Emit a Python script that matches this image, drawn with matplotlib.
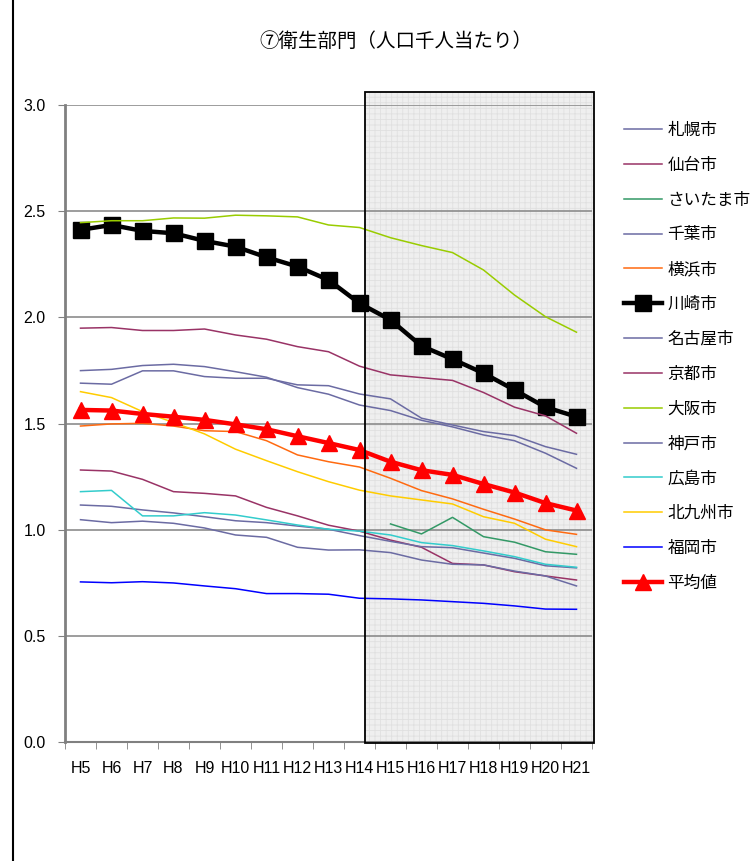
import matplotlib
matplotlib.use("Agg")
import matplotlib.pyplot as plt
from matplotlib.patches import Rectangle
from matplotlib.lines import Line2D
import numpy as np

plt.rcParams['font.family'] = ['Noto Sans CJK JP', 'DejaVu Sans']
plt.rcParams['hatch.linewidth'] = 0.6

years = ['H5', 'H6', 'H7', 'H8', 'H9', 'H10', 'H11', 'H12', 'H13', 'H14',
         'H15', 'H16', 'H17', 'H18', 'H19', 'H20', 'H21']

sapporo = [1.749, 1.755, 1.773, 1.779, 1.768, 1.744, 1.718, 1.669, 1.638, 1.587,
           1.561, 1.515, 1.484, 1.446, 1.419, 1.360, 1.289]
sendai = [1.281, 1.276, 1.237, 1.179, 1.171, 1.159, 1.105, 1.065, 1.021, 0.993,
          0.951, 0.917, 0.841, 0.834, 0.802, 0.782, 0.763]
saitama = [None] * 10 + [1.027, 0.980, 1.058, 0.967, 0.941, 0.896, 0.884]
chiba = [1.047, 1.033, 1.040, 1.030, 1.008, 0.975, 0.964, 0.917, 0.904, 0.905,
         0.892, 0.857, 0.837, 0.834, 0.805, 0.782, 0.735]
yokohama = [1.488, 1.498, 1.501, 1.488, 1.466, 1.462, 1.419, 1.352, 1.320, 1.295,
            1.242, 1.184, 1.145, 1.096, 1.050, 0.999, 0.978]
kawasaki = [2.412, 2.435, 2.407, 2.396, 2.360, 2.333, 2.283, 2.239, 2.176, 2.066,
            1.988, 1.865, 1.803, 1.737, 1.658, 1.577, 1.532]
nagoya = [1.690, 1.685, 1.748, 1.748, 1.721, 1.713, 1.713, 1.682, 1.678, 1.639,
          1.616, 1.525, 1.493, 1.462, 1.443, 1.391, 1.355]
kyoto = [1.949, 1.952, 1.938, 1.938, 1.945, 1.917, 1.897, 1.862, 1.838, 1.770,
         1.729, 1.716, 1.703, 1.646, 1.577, 1.536, 1.454]
osaka = [2.446, 2.455, 2.455, 2.468, 2.467, 2.481, 2.478, 2.473, 2.435, 2.423,
         2.375, 2.338, 2.305, 2.223, 2.105, 2.003, 1.930]
kobe = [1.116, 1.110, 1.093, 1.079, 1.061, 1.042, 1.033, 1.017, 1.002, 0.972,
        0.945, 0.920, 0.915, 0.890, 0.865, 0.830, 0.820]
hiroshima = [1.179, 1.185, 1.065, 1.065, 1.080, 1.069, 1.046, 1.022, 1.002, 0.993,
             0.975, 0.939, 0.925, 0.900, 0.873, 0.837, 0.823]
kitakyushu = [1.650, 1.622, 1.556, 1.505, 1.451, 1.379, 1.325, 1.273, 1.226, 1.186,
              1.159, 1.140, 1.121, 1.061, 1.030, 0.955, 0.920]
fukuoka = [0.754, 0.750, 0.755, 0.749, 0.735, 0.722, 0.699, 0.699, 0.696, 0.677,
           0.674, 0.669, 0.661, 0.653, 0.641, 0.626, 0.625]
average = [1.564, 1.561, 1.545, 1.532, 1.517, 1.496, 1.473, 1.440, 1.408, 1.375,
           1.320, 1.280, 1.258, 1.215, 1.175, 1.125, 1.090]

SLATE = '#6B6BA3'
PURP = '#993366'

series = [
    ('札幌市', sapporo, dict(color=SLATE, lw=1.1)),
    ('仙台市', sendai, dict(color=PURP, lw=1.1)),
    ('さいたま市', saitama, dict(color='#339966', lw=1.1)),
    ('千葉市', chiba, dict(color=SLATE, lw=1.1)),
    ('横浜市', yokohama, dict(color='#FF6A10', lw=1.1)),
    ('川崎市', kawasaki, dict(color='black', lw=3.2, marker='s', markersize=11)),
    ('名古屋市', nagoya, dict(color=SLATE, lw=1.1)),
    ('京都市', kyoto, dict(color=PURP, lw=1.1)),
    ('大阪市', osaka, dict(color='#99CC00', lw=1.1)),
    ('神戸市', kobe, dict(color=SLATE, lw=1.1)),
    ('広島市', hiroshima, dict(color='#33CCCC', lw=1.1)),
    ('北九州市', kitakyushu, dict(color='#FFCC00', lw=1.1)),
    ('福岡市', fukuoka, dict(color='#0000FF', lw=1.1)),
    ('平均値', average, dict(color='#FF0000', lw=3.2, marker='^', markersize=11.5)),
]

fig = plt.figure(figsize=(7.51, 8.61), dpi=100)
ax = fig.add_axes([65 / 751, 1 - 742 / 861, 527 / 751, 637 / 861])

x = np.arange(len(years))
handles = []
for i, (name, vals, st) in enumerate(series):
    v = np.array([np.nan if a is None else a for a in vals], dtype=float)
    ln, = ax.plot(x, v, label=name, zorder=3 + i * 0.01, **st)
    handles.append(ln)

ax.set_xlim(-0.5, len(years) - 0.5)
ax.set_ylim(0, 3.0)
ax.set_yticks(np.arange(0, 3.01, 0.5))
ax.set_yticklabels([f'{v:.1f}' for v in np.arange(0, 3.01, 0.5)],
                   family=['Liberation Sans'], fontsize=11.5)
ax.set_xticks(x)
ax.set_xticklabels(years, family=['Liberation Sans'], fontsize=11.5)
ax.set_xticks(np.arange(-0.5, len(years)), minor=True)
ax.tick_params(axis='x', which='major', length=0, pad=14)
ax.tick_params(axis='x', which='minor', length=5, color='#808080', direction='out')
ax.tick_params(axis='y', which='major', length=5, color='#808080', pad=9)
ax.grid(axis='y', color='#8c8c8c', lw=1.2, zorder=1)
ax.set_axisbelow(True)
for s in ['top', 'right']:
    ax.spines[s].set_visible(False)
ax.spines['left'].set_color('#808080')
ax.spines['left'].set_linewidth(2)
ax.spines['bottom'].set_color('#808080')
ax.spines['bottom'].set_linewidth(1.5)

# shaded period box
x0, x1 = 9.18, 16.57
ax.add_patch(Rectangle((x0, -0.007), x1 - x0, 3.067, facecolor='#efefef',
                       edgecolor='#e0e0e0', hatch='+++', lw=0, zorder=0.5,
                       clip_on=False))
ax.add_patch(Rectangle((x0, -0.007), x1 - x0, 3.067, facecolor='none',
                       edgecolor='black', lw=1.3, zorder=5, clip_on=False))

fig.text(396 / 751, 1 - 41 / 861, '⑦衛生部門（人口千人当たり）', ha='center', va='center',
         fontsize=14, family=['Noto Sans CJK JP', 'DejaVu Sans'])

fig.legend(handles=handles, loc='upper left', bbox_to_anchor=(624 / 751, 1 - 122 / 861),
           frameon=False, handlelength=2.3, handletextpad=0.3,
           labelspacing=1.07, borderaxespad=0, borderpad=0,
           prop={'family': ['Noto Sans CJK JP', 'DejaVu Sans'], 'size': 12})

fig.add_artist(Line2D([12.5 / 751, 12.5 / 751], [0, 1], color='black', lw=1.5,
                      transform=fig.transFigure))

fig.savefig('out.png', dpi=100)
